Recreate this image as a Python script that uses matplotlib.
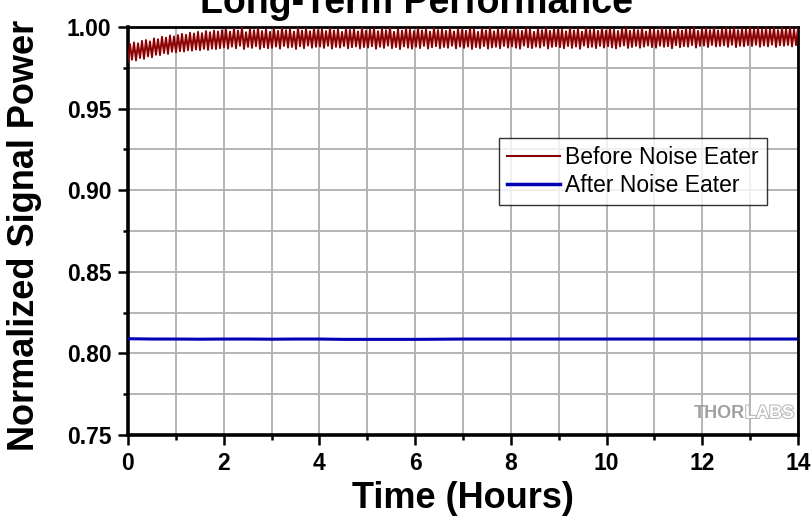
import numpy as np
import matplotlib
matplotlib.use("Agg")
import matplotlib.pyplot as plt
from matplotlib.ticker import MultipleLocator, FormatStrFormatter
import matplotlib.patheffects as pe

# ---------------- data ----------------
title = "Long-Term Performance"
xlabel = "Time (Hours)"
ylabel = "Normalized Signal Power"
series_names = ["Before Noise Eater", "After Noise Eater"]

# "Before Noise Eater": peak / trough of each oscillation cycle, 12 cycles per hour
before_peaks = [
    .9895, .9905, .9900, .9915, .9920, .9912, .9930, .9925, .9940, .9935, .9948, .9942,
    .9950, .9958, .9952, .9965, .9960, .9970, .9962, .9975, .9968, .9978, .9972, .9980,
    .9985, .9972, .9990, .9978, .9995, .9968, .9988, .9980, .9992, .9975, .9986, .9970,
    .9990, .9976, .9994, .9980, .9986, .9972, .9996, .9978, .9989, .9974, .9992, .9981,
    .9988, .9975, .9993, .9979, .9985, .9970, .9991, .9982, .9987, .9973, .9995, .9977,
    .9984, .9992, .9974, .9989, .9980, .9996, .9971, .9986, .9978, .9993, .9983, .9975,
    .9991, .9979, .9987, .9972, .9994, .9981, .9985, .9976, .9990, .9973, .9988, .9982,
    .9977, .9993, .9984, .9970, .9989, .9979, .9995, .9974, .9986, .9981, .9992, .9975,
    .9990, .9982, .9976, .9994, .9985, .9971, .9988, .9980, .9996, .9977, .9987, .9983,
    .9985, .9974, .9992, .9979, .9989, .9972, .9995, .9981, .9986, .9976, .9993, .9978,
    .9991, .9983, .9975, .9988, .9994, .9977, .9986, .9980, .9992, .9973, .9989, .9984,
    .9979, .9995, .9982, .9987, .9974, .9993, .9978, .9990, .9985, .9997, .9976, .9988,
    .9993, .9981, .9996, .9979, .9988, .9994, .9983, .9998, .9980, .9991, .9986, .9997,
    .9989, .9998, .9983, .9994, .9986, .9999, .9981, .9995, .9988, .9997, .9984, .9996,
]
before_troughs = [
    .9790, .9800, .9795, .9810, .9805, .9820, .9815, .9830, .9828, .9840, .9835, .9848,
    .9845, .9852, .9850, .9858, .9855, .9862, .9858, .9866, .9860, .9868, .9865, .9870,
    .9875, .9868, .9880, .9870, .9885, .9865, .9878, .9872, .9882, .9866, .9876, .9870,
    .9872, .9880, .9868, .9884, .9874, .9878, .9866, .9882, .9870, .9886, .9873, .9879,
    .9880, .9872, .9885, .9868, .9878, .9874, .9883, .9870, .9876, .9881, .9869, .9877,
    .9874, .9882, .9867, .9879, .9872, .9886, .9870, .9877, .9865, .9881, .9873, .9868,
    .9879, .9871, .9884, .9868, .9876, .9882, .9870, .9878, .9873, .9885, .9869, .9880,
    .9872, .9880, .9866, .9877, .9871, .9883, .9868, .9875, .9879, .9870, .9884, .9874,
    .9881, .9873, .9868, .9886, .9876, .9871, .9880, .9874, .9885, .9869, .9878, .9882,
    .9876, .9870, .9883, .9872, .9880, .9867, .9886, .9875, .9879, .9871, .9884, .9874,
    .9882, .9875, .9869, .9881, .9887, .9872, .9878, .9884, .9873, .9880, .9886, .9877,
    .9873, .9885, .9879, .9882, .9870, .9888, .9876, .9883, .9880, .9889, .9874, .9884,
    .9886, .9878, .9890, .9881, .9884, .9888, .9879, .9891, .9877, .9885, .9882, .9889,
    .9884, .9891, .9879, .9887, .9882, .9892, .9878, .9888, .9885, .9890, .9881, .9889,
]

# "After Noise Eater": sampled every half hour
after_times = [0.0, 0.5, 1.0, 1.5, 2.0, 2.5, 3.0, 3.5, 4.0, 4.5, 5.0, 5.5, 6.0, 6.5,
               7.0, 7.5, 8.0, 8.5, 9.0, 9.5, 10.0, 10.5, 11.0, 11.5, 12.0, 12.5, 13.0, 13.5, 14.0]
after_values = [.8090, .8088, .8088, .8087, .8088, .8088, .8087, .8088, .8088, .8086, .8086, .8086, .8086, .8087,
                .8088, .8088, .8088, .8088, .8088, .8088, .8088, .8088, .8088, .8088, .8088, .8088, .8088, .8088, .8088]

x_range = (0, 14)
y_range = (0.75, 1.00)

# ---------------- build the before series ----------------
before_vals = []
for p, t in zip(before_troughs, before_peaks):
    before_vals.append(p)
    before_vals.append(t)
before_times = np.linspace(x_range[0], x_range[1], len(before_vals))

# ---------------- figure ----------------
plt.rcParams['font.family'] = ['Liberation Sans', 'DejaVu Sans']
fig = plt.figure(figsize=(8.11, 5.18), dpi=100)
ax = fig.add_axes([128/811, 1 - 435/518, (798 - 128)/811, (435 - 27)/518])

ax.plot(before_times, before_vals, color='#8b0000', lw=1.4, label=series_names[0], zorder=3)
ax.plot(after_times, after_values, color='#0000b4', lw=2.2, label=series_names[1], zorder=3)

ax.set_xlim(*x_range)
ax.set_ylim(*y_range)
ax.xaxis.set_major_locator(MultipleLocator(2))
ax.xaxis.set_minor_locator(MultipleLocator(1))
ax.yaxis.set_major_locator(MultipleLocator(0.05))
ax.yaxis.set_minor_locator(MultipleLocator(0.025))
ax.yaxis.set_major_formatter(FormatStrFormatter('%.2f'))

ax.grid(True, which='both', color='#b4b4b4', lw=1.4, zorder=0)
ax.set_axisbelow(True)

for s in ax.spines.values():
    s.set_linewidth(2.0)
ax.spines['left'].set_linewidth(2.6)
ax.spines['bottom'].set_linewidth(2.6)

ax.tick_params(which='major', direction='out', length=7, width=1.8, labelsize=16.5, pad=5)
ax.tick_params(which='minor', direction='out', length=3.8, width=1.8)
for lab in ax.get_xticklabels() + ax.get_yticklabels():
    lab.set_fontweight('bold')

ax.set_xlabel(xlabel, fontsize=26, fontweight='bold')
ax.set_ylabel(ylabel, fontsize=26, fontweight='bold')
ax.xaxis.set_label_coords(0.5, -0.113)
ax.yaxis.set_label_coords(-0.128, 0.49)

fig.text(0.513, 1 - 13/518, title, ha='center', va='baseline', fontsize=27, fontweight='bold')

leg = ax.legend(loc='upper left', bbox_to_anchor=((499 - 128)/670, 1 - (138 - 27)/408),
                fontsize=16.5, frameon=True, fancybox=False, handlelength=2.3,
                borderpad=0.35, labelspacing=0.2, handletextpad=0.25, borderaxespad=0)
leg.get_frame().set_edgecolor('black')
leg.get_frame().set_linewidth(1.0)
leg.get_lines()[0].set_linewidth(1.5)
leg.get_lines()[1].set_linewidth(2.5)

# watermark
ax.text((745 - 128)/670, 0.032, "THOR", transform=ax.transAxes, ha='right', va='bottom',
        fontsize=13, fontweight='bold', color='#a0a0a0')
ax.text((745 - 128)/670, 0.032, "LABS", transform=ax.transAxes, ha='left', va='bottom',
        fontsize=13, fontweight='bold', color='white',
        path_effects=[pe.withStroke(linewidth=1.5, foreground='#b8b8b8')])

fig.savefig("out.png", dpi=100)
